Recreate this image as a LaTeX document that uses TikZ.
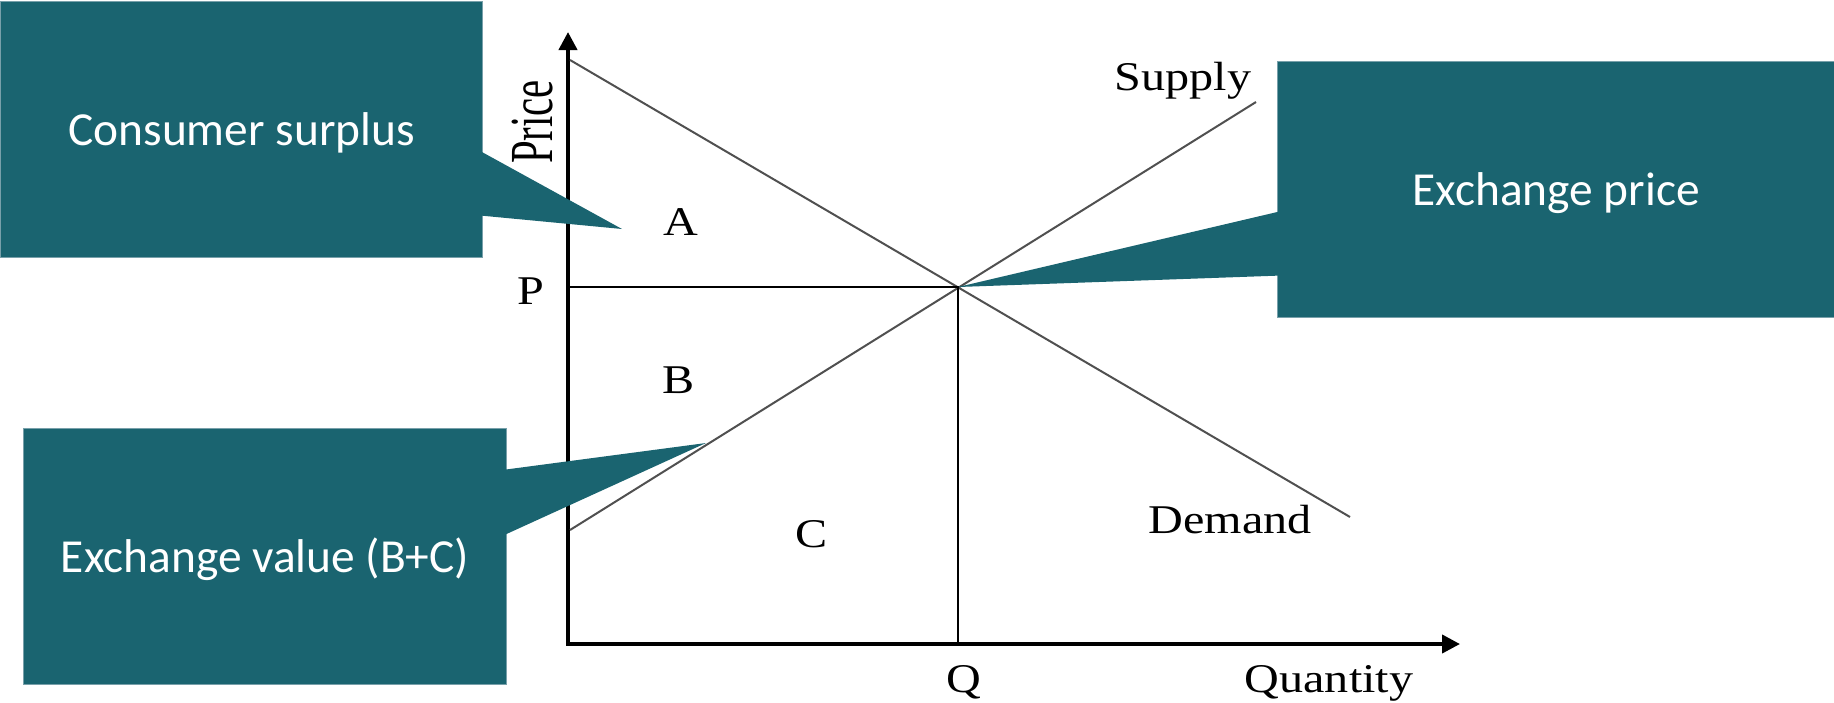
\documentclass[tikz,border=0pt]{standalone}
\usepackage{fontspec}
\setmainfont{Liberation Serif}
\newfontfamily\calibri{Carlito}
\usetikzlibrary{arrows.meta,calc}
\definecolor{callteal}{RGB}{26,100,112}
\definecolor{calledge}{RGB}{120,160,170}
\definecolor{curvegray}{RGB}{80,80,80}
\begin{document}
\begin{tikzpicture}[x=0.5pt,y=-0.5pt,
  cbox/.style={fill=callteal, draw=calledge, line width=0.6pt, text=white,
    font=\calibri\fontsize{23.7}{28}\selectfont, inner sep=0pt, anchor=north west,
    text height=18pt, text depth=2.6pt},
  ptr/.style={fill=callteal},
  axisline/.style={line width=2pt, line join=miter,
    {Triangle[length=9pt,width=9pt]}-{Triangle[length=9pt,width=9pt]}},
  curveline/.style={curvegray, line width=1pt},
  guide/.style={line width=1.4pt},
  lbl/.style={font=\fontsize{20.4}{24}\selectfont, anchor=base, inner sep=0pt},
]
\useasboundingbox (0,0) rectangle (1834,702);

% chart
\coordinate (O) at (568,644);
\coordinate (ytop) at (568,32);
\coordinate (xend) at (1460,644);
\draw[axisline] (ytop) -- (O) -- (xend);

\coordinate (D1) at (570,60);
\coordinate (D2) at (1350,517);
\coordinate (S1) at (570,530);
\coordinate (S2) at (1256,102);
\coordinate (E) at (958,287);
\draw[curveline] (D1) -- (D2);
\draw[curveline] (S1) -- (S2);
\draw[guide] (O |- E) -- (E) -- (O -| E);

\node[lbl, anchor=center, rotate=90] (price) at (533,122) {\scalebox{1}[1.5]{Price}};
\node[lbl] (la) at (681,235) {\scalebox{1.18}[1]{A}};
\node[lbl] (lp) at (531,304) {\scalebox{1.18}[1]{P}};
\node[lbl] (lb) at (679,393) {\scalebox{1.18}[1]{B}};
\node[lbl] (lc) at (812,547) {\scalebox{1.18}[1]{C}};
\node[lbl] (ldem) at (1230,533) {\scalebox{1.18}[1]{Demand}};
\node[lbl] (lsup) at (1183,90) {\scalebox{1.18}[1]{Supply}};
\node[lbl] (lq) at (964,692) {\scalebox{1.18}[1]{Q}};
\node[lbl] (lqty) at (1329,692) {\scalebox{1.18}[1]{Quantity}};

% callouts
\node[cbox, minimum width=241pt, minimum height=128pt] (cs) at (0,1) {Consumer surplus};
\node[cbox, minimum width=278.5pt, minimum height=128pt] (ep) at (1277,61) {Exchange price};
\node[cbox, minimum width=241.5pt, minimum height=128pt] (ev) at (23,428) {Exchange value (B+C)};

\coordinate (csTip) at (622,229);
\coordinate (evTip) at (706,443);
\fill[ptr] ($(cs.east)+(-2,22)$) -- (csTip) -- ($(cs.east)+(-2,86)$) -- cycle;
\fill[ptr] ($(ep.west)+(2,22)$) -- (E) -- ($(ep.west)+(2,86)$) -- cycle;
\fill[ptr] ($(ev.east)+(-2,-87)$) -- (evTip) -- ($(ev.east)+(-2,-22)$) -- cycle;
\end{tikzpicture}
\end{document}
